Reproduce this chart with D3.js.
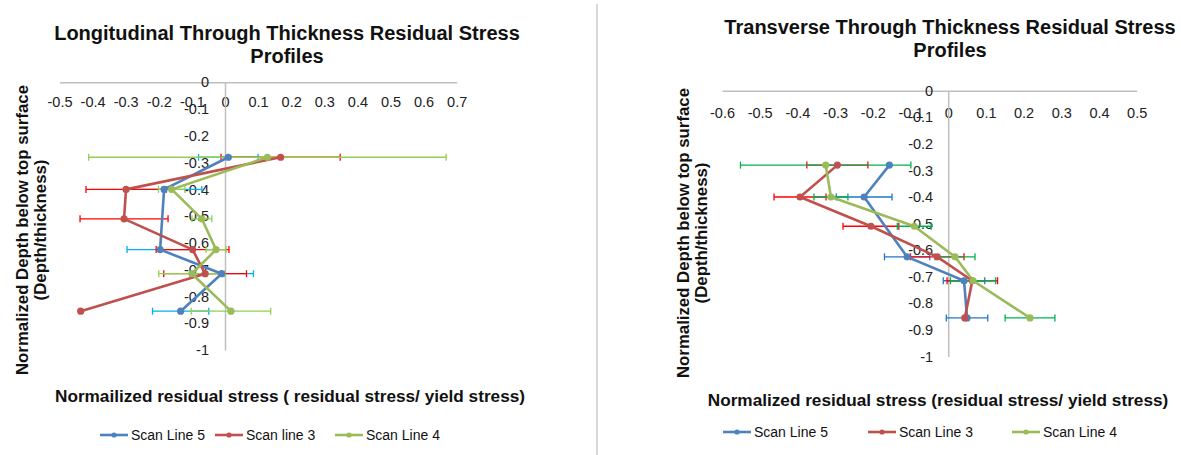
<!DOCTYPE html>
<html>
<head>
<meta charset="utf-8">
<script src="https://cdn.jsdelivr.net/npm/d3@7/dist/d3.min.js"></script>
<style>
  html, body { margin: 0; padding: 0; background: #fff; }
  svg { display: block; font-family: "Liberation Sans", Arial, sans-serif; }
</style>
</head>
<body>
<svg id="chart" width="1181" height="455"></svg>
<script>
// Normalized depth below the top surface (depth / thickness), shared by both panels
const depths = [-0.28, -0.40, -0.51, -0.625, -0.715, -0.855];

// Longitudinal profile: normalized residual stress and error-bar half widths
const longLine5 = [0.01, -0.184, null, -0.196, -0.01, -0.134];
const longLine5Err = [0.09, 0.114, null, 0.10, 0.096, 0.085];
const longLine3 = [0.168, -0.299, -0.305, -0.098, -0.06, -0.436];
const longLine3Err = [0.18, 0.121, 0.133, 0.11, 0.125, null];
const longLine4 = [0.128, -0.161, -0.07, -0.027, -0.10, 0.018];
const longLine4Err = [0.54, 0.04, 0.03, 0.03, 0.10, 0.12];

// Transverse profile: normalized residual stress and error-bar half widths
const transLine5 = [-0.156, -0.223, null, -0.109, 0.042, 0.05];
const transLine5Err = [null, 0.074, null, 0.06, 0.055, 0.055];
const transLine3 = [-0.294, -0.393, -0.205, -0.029, 0.064, 0.044];
const transLine3Err = [0.081, 0.069, 0.074, 0.071, 0.067, null];
const transLine4 = [-0.325, -0.311, -0.09, 0.018, 0.066, 0.217];
const transLine4Err = [0.226, 0.045, 0.045, 0.053, 0.06, 0.066];

// Axis ticks
const longXTicks = [-0.5, -0.4, -0.3, -0.2, -0.1, 0, 0.1, 0.2, 0.3, 0.4, 0.5, 0.6, 0.7];
const transXTicks = [-0.6, -0.5, -0.4, -0.3, -0.2, -0.1, 0, 0.1, 0.2, 0.3, 0.4, 0.5];
const depthTicks = [0, -0.1, -0.2, -0.3, -0.4, -0.5, -0.6, -0.7, -0.8, -0.9, -1];

const lineColors = ["#4f81bd", "#c0504d", "#9bbb59"];
const fmt = v => String(+v.toFixed(1));

const svg = d3.select("#chart");

// Divider between the two panels
svg.append("line")
  .attr("x1", 597).attr("x2", 597).attr("y1", 4).attr("y2", 455)
  .attr("stroke", "#d9d9d9").attr("stroke-width", 2);

function drawPanel(cfg) {
  const g = svg.append("g");
  const x = d3.scaleLinear().domain(cfg.xDomain).range(cfg.xRange);
  const y = d3.scaleLinear().domain([0, -1]).range(cfg.yRange);

  // Horizontal axis through depth 0, labels underneath
  const xAxis = g.append("g")
    .attr("transform", `translate(0,${y(0)})`)
    .call(d3.axisBottom(x).tickValues(cfg.xTicks).tickFormat(fmt).tickSize(0).tickPadding(cfg.xPad));
  // Vertical axis through stress 0
  const yAxis = g.append("g")
    .attr("transform", `translate(${x(0)},0)`)
    .call(d3.axisLeft(y).tickValues(depthTicks).tickFormat(fmt).tickSize(0).tickPadding(cfg.yPad));
  [xAxis, yAxis].forEach(a => {
    a.select(".domain").attr("stroke", "#bfbfbf").attr("stroke-width", 1.5);
    a.selectAll("text").attr("font-size", 14.5).attr("fill", "#222")
      .attr("font-family", "Liberation Sans, Arial, sans-serif");
  });

  const series = cfg.series.map((s, i) => ({
    color: lineColors[i],
    errColor: cfg.errColors[i],
    pts: depths.map((d, j) => ({ d, v: s.values[j], e: s.errs[j] })).filter(p => p.v != null)
  }));

  // Horizontal error bars with end caps
  series.forEach(s => {
    const eb = g.append("g").attr("stroke", s.errColor).attr("stroke-width", 1.3).attr("fill", "none");
    s.pts.filter(p => p.e != null).forEach(p => {
      const x0 = x(p.v - p.e), x1 = x(p.v + p.e), yy = y(p.d);
      eb.append("line").attr("x1", x0).attr("x2", x1).attr("y1", yy).attr("y2", yy);
      [x0, x1].forEach(xx => eb.append("line")
        .attr("x1", xx).attr("x2", xx).attr("y1", yy - 3.5).attr("y2", yy + 3.5));
    });
  });

  // Profile lines
  const line = d3.line().x(p => x(p.v)).y(p => y(p.d));
  series.forEach(s => {
    g.append("path").datum(s.pts).attr("d", line)
      .attr("fill", "none").attr("stroke", s.color).attr("stroke-width", 2.6)
      .attr("stroke-linejoin", "round");
  });
  // Markers
  series.forEach(s => {
    g.append("g").selectAll("circle").data(s.pts).join("circle")
      .attr("cx", p => x(p.v)).attr("cy", p => y(p.d)).attr("r", 3.6)
      .attr("fill", s.color);
  });

  // Title
  cfg.title.forEach((t, i) => {
    g.append("text").attr("x", cfg.titleX).attr("y", cfg.titleY + i * 23)
      .attr("text-anchor", "middle").attr("font-size", 20).attr("font-weight", "bold")
      .attr("fill", "#111").text(t);
  });
  // Vertical axis title (two lines)
  cfg.yTitle.forEach((t, i) => {
    g.append("text")
      .attr("transform", `translate(${cfg.yTitleX + i * 18},${cfg.yTitleY}) rotate(-90)`)
      .attr("text-anchor", "middle").attr("font-size", 16.8).attr("font-weight", "bold")
      .attr("fill", "#111").text(t);
  });
  // Horizontal axis title
  g.append("text").attr("x", cfg.xTitleX).attr("y", cfg.xTitleY)
    .attr("text-anchor", "middle").attr("font-size", 17.2).attr("font-weight", "bold")
    .attr("fill", "#111").text(cfg.xTitle);

  // Legend
  cfg.series.forEach((s, i) => {
    const lx = cfg.legendX[i], ly = cfg.legendY;
    g.append("line").attr("x1", lx).attr("x2", lx + 28).attr("y1", ly).attr("y2", ly)
      .attr("stroke", lineColors[i]).attr("stroke-width", 2.6);
    g.append("circle").attr("cx", lx + 14).attr("cy", ly).attr("r", 2.6).attr("fill", lineColors[i]);
    g.append("text").attr("x", lx + 31).attr("y", ly + 5).attr("font-size", 14)
      .attr("fill", "#111").text(s.name);
  });
}

drawPanel({
  xDomain: [-0.5, 0.7], xRange: [59.5, 456.7], yRange: [82.3, 350],
  xTicks: longXTicks, xPad: 14, yPad: 16,
  errColors: ["#00b0f0", "#ff0000", "#92d050"],
  series: [
    { name: "Scan Line 5", values: longLine5, errs: longLine5Err },
    { name: "Scan line 3", values: longLine3, errs: longLine3Err },
    { name: "Scan Line 4", values: longLine4, errs: longLine4Err }
  ],
  title: ["Longitudinal Through Thickness Residual Stress", "Profiles"],
  titleX: 287, titleY: 40,
  yTitle: ["Normalized Depth below top surface", "(Depth/thickness)"],
  yTitleX: 28, yTitleY: 230,
  xTitle: "Normailized residual stress ( residual stress/ yield stress)",
  xTitleX: 290, xTitleY: 402,
  legendX: [100, 215, 335], legendY: 435
});

drawPanel({
  xDomain: [-0.6, 0.5], xRange: [722, 1136.7], yRange: [90.7, 356.5],
  xTicks: transXTicks, xPad: 17, yPad: 15,
  errColors: ["#1f77c8", "#ff0000", "#00b050"],
  series: [
    { name: "Scan Line 5", values: transLine5, errs: transLine5Err },
    { name: "Scan Line 3", values: transLine3, errs: transLine3Err },
    { name: "Scan Line 4", values: transLine4, errs: transLine4Err }
  ],
  title: ["Transverse Through Thickness Residual Stress", "Profiles"],
  titleX: 950, titleY: 34,
  yTitle: ["Normalized Depth below top surface", "(Depth/thickness)"],
  yTitleX: 689, yTitleY: 233,
  xTitle: "Normalized residual stress (residual stress/ yield stress)",
  xTitleX: 938, xTitleY: 406,
  legendX: [723, 868, 1012], legendY: 432
});
</script>
</body>
</html>
